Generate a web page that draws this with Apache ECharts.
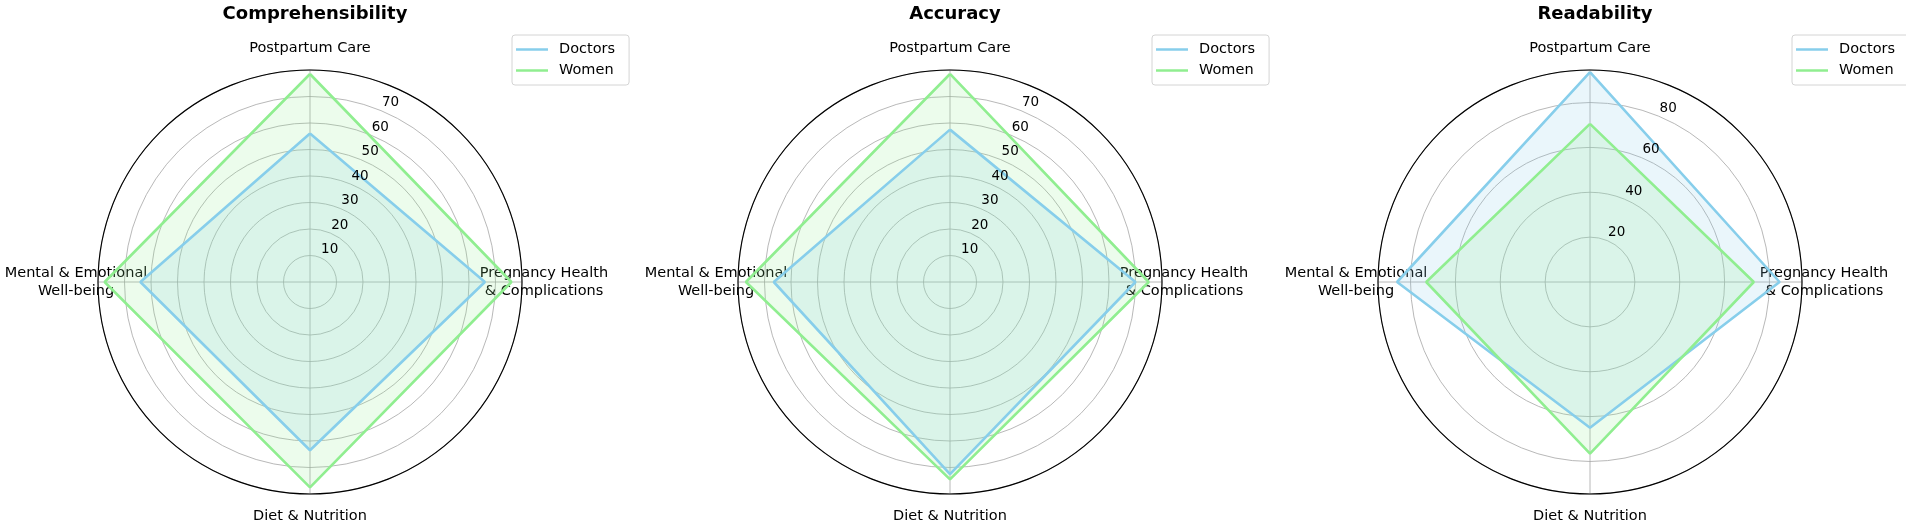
<!DOCTYPE html>
<html lang="en">
<head>
    <meta charset="UTF-8">
    <title>Doctors vs Women</title>
    <script src="https://cdn.jsdelivr.net/npm/echarts@6/dist/echarts.min.js"></script>
    <style>
        body { margin: 0; background: #fff; }
        #main { width: 1906px; height: 526px; }
    </style>
</head>
<body>
<div id="main"></div>
<script>
// data
var categories = ['Postpartum Care', 'Pregnancy Health\n& Complications', 'Diet & Nutrition', 'Mental & Emotional\nWell-being'];
var titles = ['Comprehensibility', 'Accuracy', 'Readability'];
var seriesNames = ['Doctors', 'Women'];

var comprehensibilityDoctors = [56, 66, 63.5, 64];
var comprehensibilityWomen = [78.5, 76, 77.5, 77.5];
var accuracyDoctors = [57.5, 70, 72.5, 66.5];
var accuracyWomen = [78.5, 75, 74.5, 77];
var readabilityDoctors = [93.5, 84.5, 65, 86];
var readabilityWomen = [70.5, 73, 76.5, 73];

var radialMax = [80, 80, 94.5];
var radialStep = [10, 10, 20];
var radialLastLabel = [70, 70, 80];

var panels = [
    [comprehensibilityDoctors, comprehensibilityWomen],
    [accuracyDoctors, accuracyWomen],
    [readabilityDoctors, readabilityWomen]
];

var colors = ['#87CEEB', '#90EE90'];
var fills = ['rgba(135,206,235,0.25)', 'rgba(144,238,144,0.24)'];
var gridColor = '#a6a6a6';
var font = 'DejaVu Sans';

var centersX = [310, 950, 1590];
var centerY = 282;
var R = 212;
var boxW = 150;   // fixed label box, text centred inside it

// category label: every line in a fixed-width box so the text is centred
// on the point matplotlib uses, whatever side of the circle it is on
function catLabel(v) {
    if (v >= categories.length) return '';
    var lines = categories[v].split('\n');
    if (lines.length === 1) return '{s|' + lines[0] + '}';
    return lines.map(function (l) { return '{m|' + l + '}'; }).join('\n');
}

var option = {
    animation: false,
    title: [],
    legend: [],
    polar: [],
    angleAxis: [],
    radiusAxis: [],
    series: []
};

panels.forEach(function (pair, k) {
    var cx = centersX[k];

    option.title.push({
        text: titles[k],
        left: cx,
        top: 0,
        textAlign: 'center',
        textStyle: { fontFamily: font, fontSize: 18, fontWeight: 'bold', color: '#000' }
    });

    option.legend.push({
        data: seriesNames,
        orient: 'vertical',
        left: cx + 202,
        top: 35,
        padding: [7, 14, 7, 4],
        itemGap: 6,
        itemWidth: 32,
        itemHeight: 2.5,
        icon: 'rect',
        borderColor: '#d4d4d4',
        borderWidth: 1,
        borderRadius: 3,
        textStyle: { fontFamily: font, fontSize: 14.5, color: '#000', padding: [0, 0, 0, 6] }
    });

    // main polar: grid, outer circle, category labels
    // angle axis is a value axis 0..4 so that the 4 categories sit every 90deg
    option.polar.push({ center: [cx, centerY], radius: R });
    option.angleAxis.push({
        polarIndex: 2 * k,
        type: 'value',
        min: 0,
        max: categories.length,
        interval: 1,
        startAngle: 90,
        clockwise: true,
        axisLine: { lineStyle: { color: '#000', width: 1.1 } },
        axisTick: { show: false },
        splitLine: { show: true, lineStyle: { color: gridColor, width: 0.8 } },
        axisLabel: {
            margin: 234 - R - boxW / 2,
            fontFamily: font,
            fontSize: 14.5,
            color: '#000',
            formatter: catLabel,
            rich: {
                s: { width: boxW, lineHeight: boxW, align: 'center', fontFamily: font, fontSize: 14.5, color: '#000' },
                m: { width: boxW, lineHeight: 17.5, align: 'center', fontFamily: font, fontSize: 14.5, color: '#000' }
            }
        }
    });
    option.radiusAxis.push({
        polarIndex: 2 * k,
        type: 'value',
        min: 0,
        max: radialMax[k],
        interval: radialStep[k],
        axisLine: { show: false },
        axisTick: { show: false },
        axisLabel: { show: false },
        splitLine: { show: true, lineStyle: { color: gridColor, width: 0.8 } }
    });

    // second polar only carries the radial tick labels (matplotlib puts them at 22.5deg)
    option.polar.push({ center: [cx + 9.5, centerY - 8], radius: R });
    option.angleAxis.push({
        polarIndex: 2 * k + 1,
        type: 'value',
        startAngle: 67.5,
        show: false
    });
    option.radiusAxis.push({
        polarIndex: 2 * k + 1,
        type: 'value',
        min: 0,
        max: radialMax[k],
        interval: radialStep[k],
        z: 5,
        axisLine: { show: false },
        axisTick: { show: false },
        splitLine: { show: false },
        axisLabel: {
            margin: 0,
            align: 'center',
            verticalAlign: 'middle',
            fontFamily: font,
            fontSize: 13.5,
            color: '#000',
            formatter: function (v) {
                return (v > 0 && v <= radialLastLabel[k]) ? String(v) : '';
            }
        }
    });

    pair.forEach(function (vals, s) {
        var pts = vals.map(function (v, i) { return [v, i]; });
        pts.push([vals[0], categories.length]);
        option.series.push({
            name: seriesNames[s],
            type: 'line',
            coordinateSystem: 'polar',
            polarIndex: 2 * k,
            data: pts,
            symbol: 'none',
            smooth: false,
            clip: false,
            z: 3,
            itemStyle: { color: colors[s] },
            lineStyle: { color: colors[s], width: 2.6 },
            areaStyle: { color: fills[s], origin: 'start' }
        });
    });
});

var myChart = echarts.init(document.getElementById('main'));
myChart.setOption(option);
</script>
</body>
</html>
